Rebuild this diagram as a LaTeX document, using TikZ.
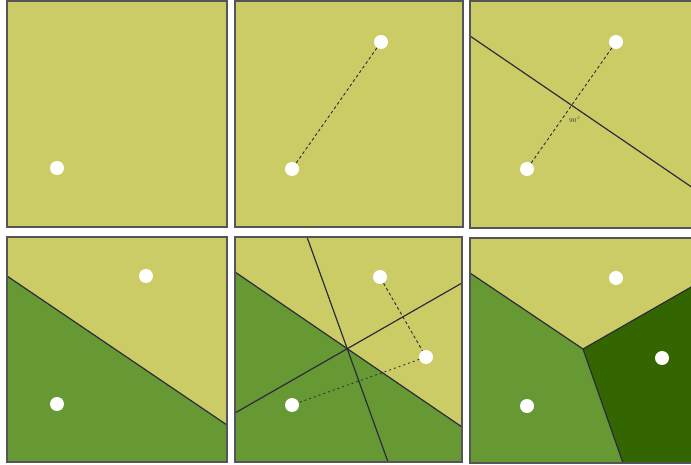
\documentclass[tikz,border=0pt]{standalone}
\usetikzlibrary{positioning}
\usepackage{xcolor}
\definecolor{cyellow}{HTML}{CCCC66}
\definecolor{cgreen}{HTML}{669933}
\definecolor{cdark}{HTML}{336600}
\definecolor{cline}{HTML}{2B2B3B}
\definecolor{cframe}{HTML}{555555}

\tikzset{
  panel/.style={fill=cyellow},
  frame/.style={draw=cframe, line width=1.3pt},
  seed/.style={circle, fill=white, inner sep=0pt, minimum size=14pt},
  bisector/.style={draw=cline, line width=1.2pt},
  link/.style={draw=cline, line width=0.9pt, dash pattern=on 3pt off 2.5pt},
  linkdot/.style={draw=cline, line width=0.9pt, dash pattern=on 1.8pt off 3.2pt},
}

\begin{document}
\begin{tikzpicture}[x=1pt, y=-1pt]
    \useasboundingbox (0,0) rectangle (691,465);
    \clip (0,0) rectangle (691,465);

    % panels
    \foreach \xa/\ya/\xb/\yb in {7/1/227/227, 235/1/463/227, 470/1/693/228,
                                 7/237/227/462, 235/237/462/462, 470/238/693/463}
      \fill[panel] (\xa,\ya) rectangle (\xb,\yb);

    % panel 3: bisector
    \coordinate (c-l) at (470,36);
    \coordinate (c-r) at (693,188);

    % panel 4: two cells
    \coordinate (d-l) at (7,276);
    \coordinate (d-r) at (227,425);
    \fill[cgreen] (d-l) -- (d-r) -- (227,462) -- (7,462) -- cycle;

    % panel 5: three bisectors
    \coordinate (e1-l) at (235,272);
    \coordinate (e1-r) at (462,427);
    \coordinate (e2-t) at (307,237);
    \coordinate (e2-b) at (388,462);
    \coordinate (e3-l) at (235,413);
    \coordinate (e3-r) at (462,283);
    \fill[cgreen] (e1-l) -- (e1-r) -- (462,462) -- (235,462) -- cycle;

    % panel 6: three cells
    \coordinate (f-v) at (583,349);
    \coordinate (f-l) at (470,273);
    \coordinate (f-r) at (693,286);
    \coordinate (f-b) at (623,463);
    \fill[cgreen] (f-v) -- (f-l) -- (470,463) -- (f-b) -- cycle;
    \fill[cdark] (f-v) -- (f-r) -- (693,463) -- (f-b) -- cycle;

    \draw[bisector] (c-l) -- (c-r);
    \draw[bisector] (d-l) -- (d-r);
    \draw[bisector] (e1-l) -- (e1-r);
    \draw[bisector] (e2-t) -- (e2-b);
    \draw[bisector] (e3-l) -- (e3-r);
    \draw[bisector] (f-l) -- (f-v) -- (f-r);
    \draw[bisector] (f-v) -- (f-b);

    \foreach \xa/\ya/\xb/\yb in {7/1/227/227, 235/1/463/227, 470/1/693/228,
                                 7/237/227/462, 235/237/462/462, 470/238/693/463}
      \draw[frame] (\xa,\ya) rectangle (\xb,\yb);

    % seeds
    \node[seed] (a1) at (57,168) {};

    \node[seed] (b1) at (381,42) {};
    \node[seed] (b2) at (292,169) {};

    \node[seed] (c1) at (616,42) {};
    \node[seed] (c2) at (527,169) {};
    \node[font=\sffamily\fontsize{6}{7}\selectfont, text=cline] (angle) at (575,120) {$90^{\circ}$};

    \node[seed] (d1) at (146,276) {};
    \node[seed] (d2) at (57,404) {};

    \node[seed] (e1) at (380,277) {};
    \node[seed] (e2) at (426,357) {};
    \node[seed] (e3) at (292,405) {};

    \node[seed] (f1) at (616,278) {};
    \node[seed] (f2) at (662,358) {};
    \node[seed] (f3) at (527,406) {};

    % links
    \draw[link] (b1) -- (b2);
    \draw[link] (c1) -- (c2);
    \draw[link] (e1) -- (e2);
    \draw[linkdot] (e2) -- (e3);
\end{tikzpicture}
\end{document}
